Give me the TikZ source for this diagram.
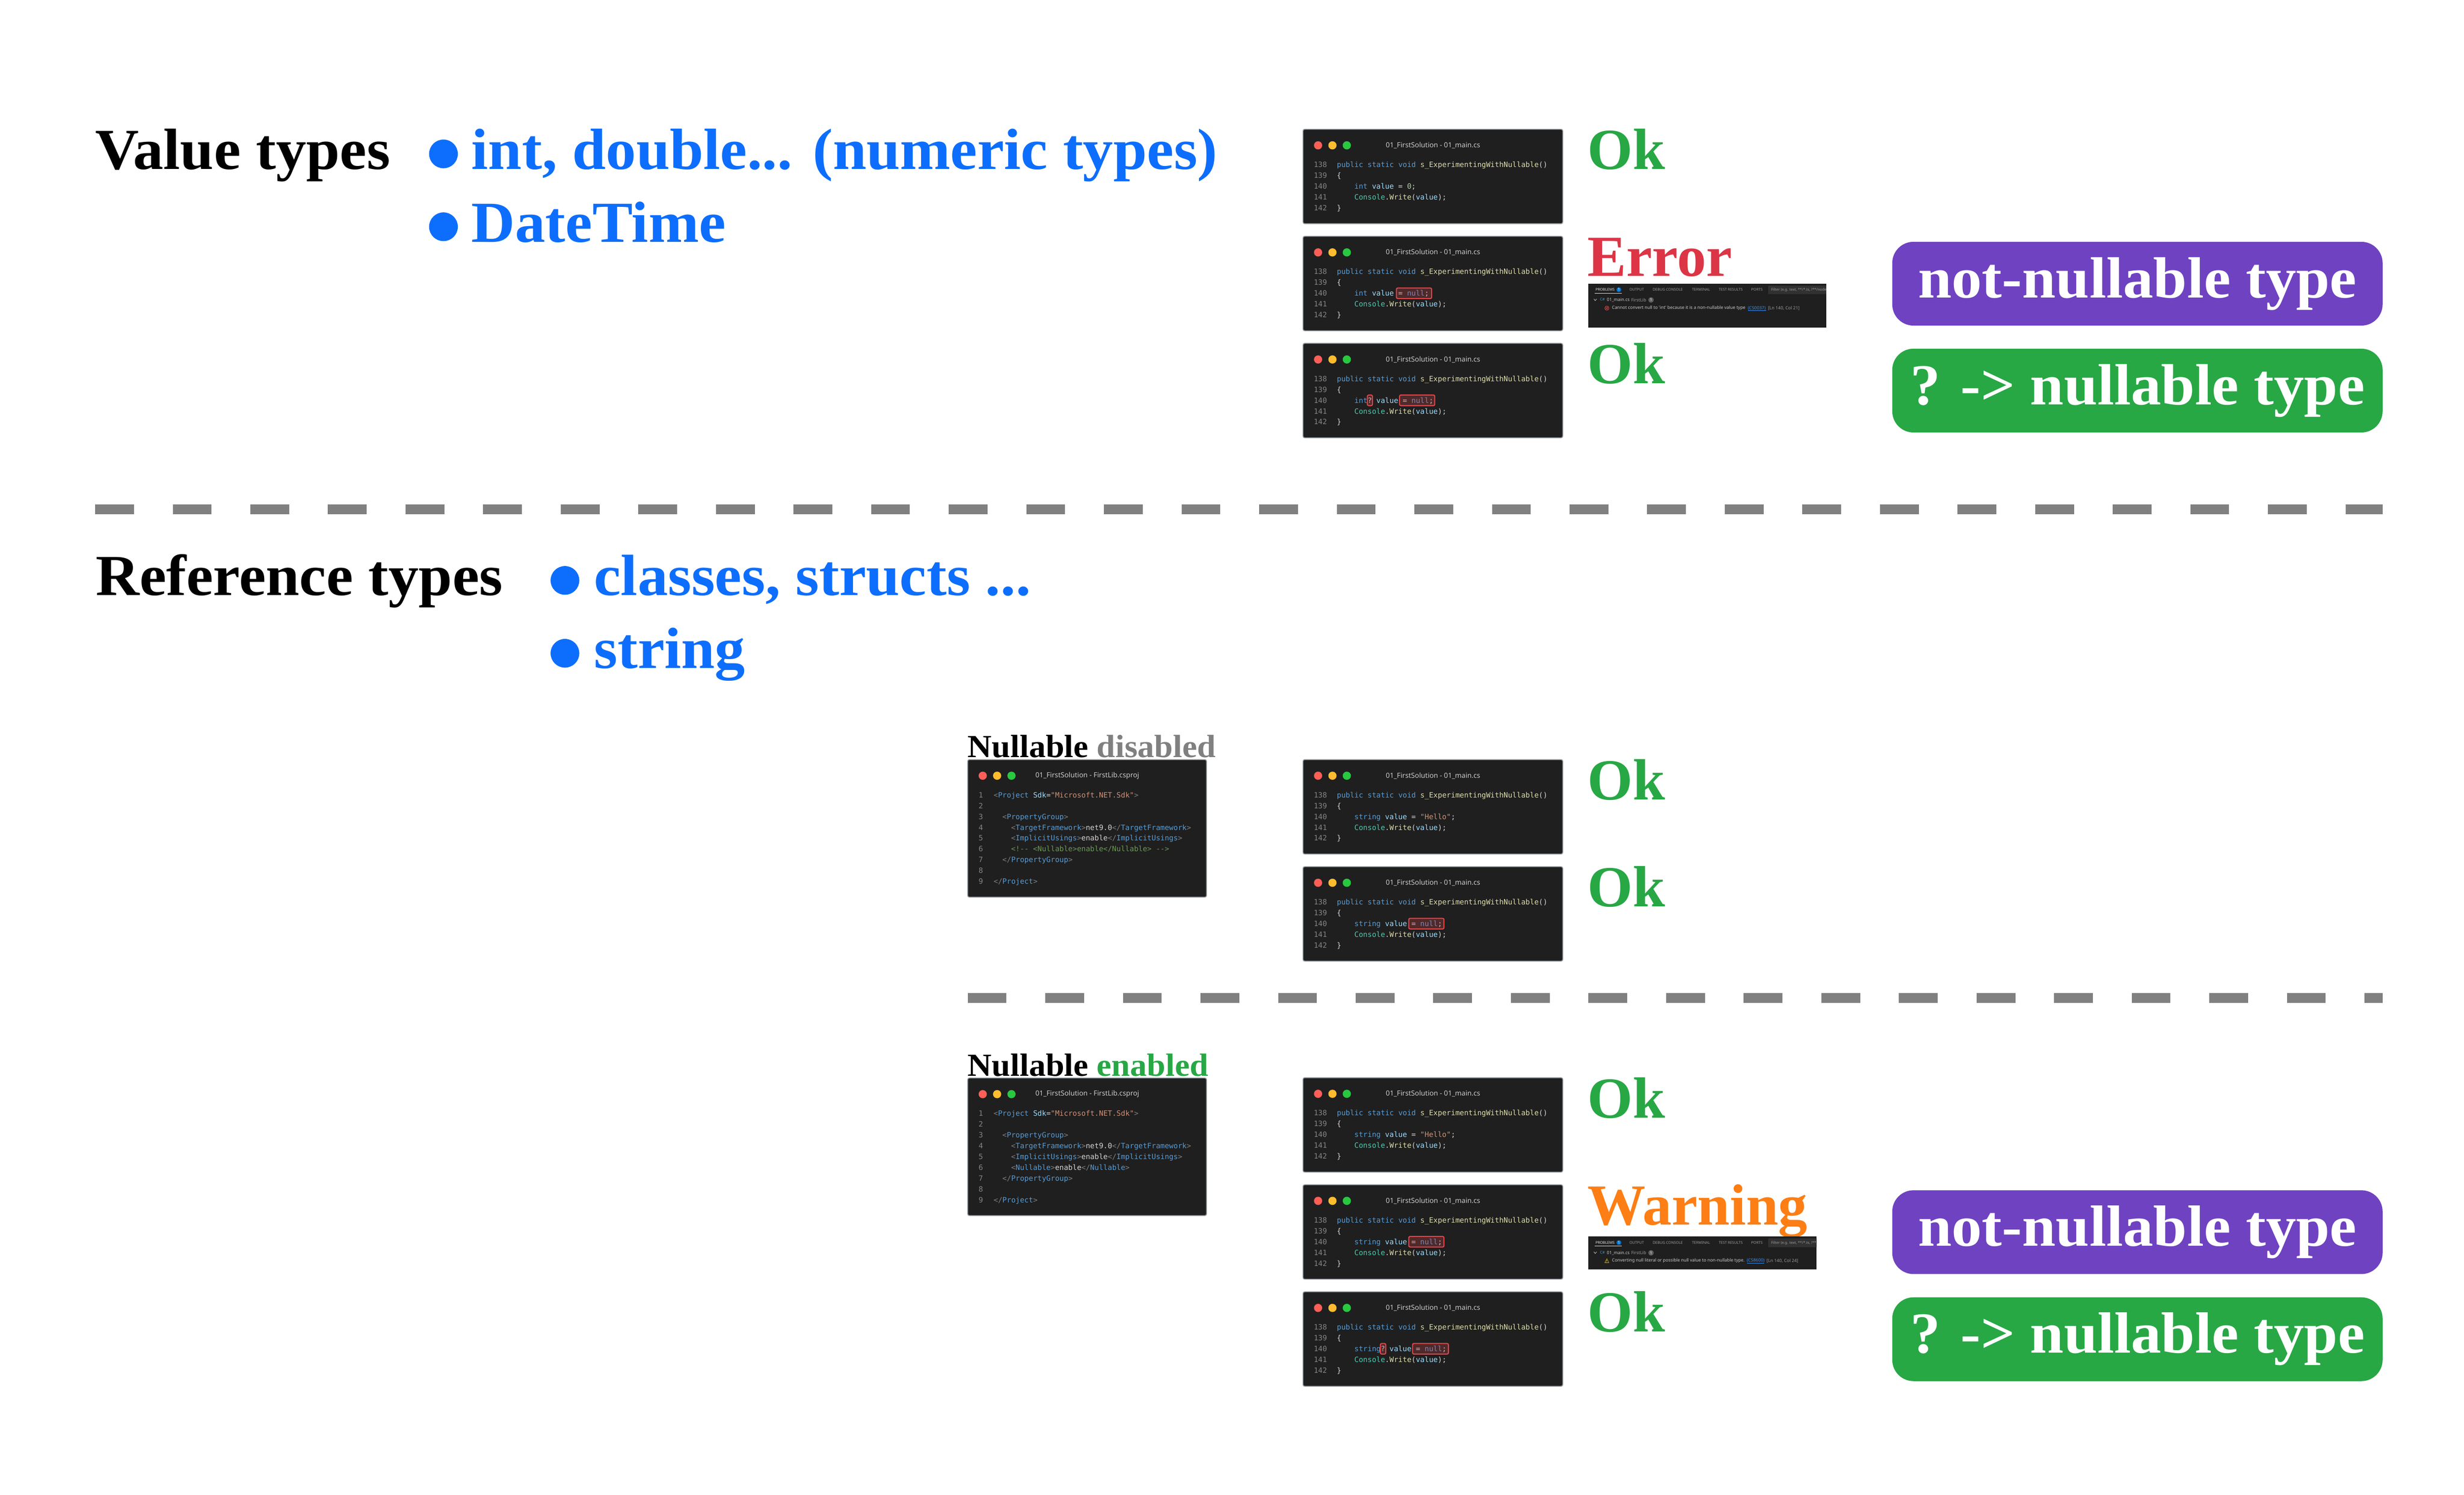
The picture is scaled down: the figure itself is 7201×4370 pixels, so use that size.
\documentclass[tikz,border=0pt]{standalone}
\usepackage{fontspec}
\setmainfont{Liberation Serif}[FakeStretch=1.04]
\newfontfamily\statusfont{Liberation Serif}
\newfontfamily\uifont{Noto Sans}
\setmonofont{DejaVu Sans Mono}[WordSpace={1,0,0}]
% colours
\definecolor{okgreen}{HTML}{28A745}
\definecolor{errred}{HTML}{DC3545}
\definecolor{warnorange}{HTML}{FD7E14}
\definecolor{itemblue}{HTML}{0D6EFD}
\definecolor{pillpurple}{HTML}{6F42C1}
\definecolor{gray50}{HTML}{808080}
\definecolor{ckw}{HTML}{569CD6}
\definecolor{cfn}{HTML}{DCDCAA}
\definecolor{cva}{HTML}{9CDCFE}
\definecolor{cty}{HTML}{4EC9B0}
\definecolor{cpl}{HTML}{D4D4D4}
\definecolor{cnm}{HTML}{B5CEA8}
\definecolor{cst}{HTML}{CE9178}
\definecolor{ccm}{HTML}{6A9955}
\definecolor{cbr}{HTML}{808080}
\definecolor{lngray}{HTML}{858585}
\definecolor{titlegray}{HTML}{CCCCCC}
\definecolor{winbg}{HTML}{1F1F1F}
\definecolor{winborder}{HTML}{8A9199}
\definecolor{tlred}{HTML}{FF5F57}
\definecolor{tlyellow}{HTML}{FEBC2E}
\definecolor{tlgreen}{HTML}{28C840}
\definecolor{hlred}{HTML}{E5484D}
\definecolor{panelbg}{HTML}{1F1F1F}
\definecolor{filterbg}{HTML}{313131}
\definecolor{tabwhite}{HTML}{E7E7E7}
\definecolor{tabgray}{HTML}{9D9D9D}
\definecolor{rowwhite}{HTML}{CCCCCC}
\definecolor{badgeblue}{HTML}{0078D4}
\definecolor{badgegray}{HTML}{616161}
\definecolor{linkblue}{HTML}{3794FF}
\definecolor{iconred}{HTML}{F14C4C}
\definecolor{iconyellow}{HTML}{CCA700}
\definecolor{csblue}{HTML}{519ABA}
% code colouring
\newcommand\CKw[1]{\textcolor{ckw}{#1}}
\newcommand\CFn[1]{\textcolor{cfn}{#1}}
\newcommand\CVa[1]{\textcolor{cva}{#1}}
\newcommand\CTy[1]{\textcolor{cty}{#1}}
\newcommand\CPl[1]{\textcolor{cpl}{#1}}
\newcommand\CNm[1]{\textcolor{cnm}{#1}}
\newcommand\CSt[1]{\textcolor{cst}{#1}}
\newcommand\CCm[1]{\textcolor{ccm}{#1}}
\newcommand\CBr[1]{\textcolor{cbr}{#1}}
\newcommand\CTg[1]{\textcolor{ckw}{#1}}
\newcommand\CAt[1]{\textcolor{cva}{#1}}
\tikzset{
  txt/.style={inner sep=0pt, outer sep=0pt},
  head/.style={txt, anchor=base west, font=\bfseries\fontsize{17pt}{20pt}\selectfont, text=black},
  item/.style={txt, anchor=base west, font=\bfseries\fontsize{17pt}{20pt}\selectfont, text=itemblue},
  status/.style={txt, anchor=base west, font=\statusfont\bfseries\fontsize{17pt}{20pt}\selectfont},
  nlabel/.style={txt, anchor=base west, font=\bfseries\fontsize{9.4pt}{11pt}\selectfont, text=black},
  pill/.style={rectangle, rounded corners=6.2pt, inner sep=0pt, minimum width=143.3pt, minimum height=24.5pt, draw=none,
    text height=12pt, text depth=3.9pt, font=\bfseries\fontsize{17pt}{20pt}\selectfont, text=white},
  sepline/.style={draw=gray50, line width=2.8pt, dash pattern=on 11.34pt off 11.34pt},
  winstyle/.style={fill=winbg, draw=winborder, line width=0.25pt, rounded corners=0.5pt},
  wintitle/.style={txt, anchor=west, font=\uifont\fontsize{2.04pt}{2.4pt}\selectfont, text=titlegray},
  lnum/.style={txt, anchor=base east, font=\ttfamily\fontsize{2.13pt}{2.5pt}\selectfont, text=lngray},
  codeln/.style={txt, anchor=base west, font=\ttfamily\fontsize{2.13pt}{2.5pt}\selectfont, text=cpl},
  hl/.style={fill=hlred, fill opacity=0.25, draw=hlred, draw opacity=1, line width=0.3pt, rounded corners=0.4pt},
  ptab/.style={txt, anchor=west, font=\uifont\fontsize{1.07pt}{1.3pt}\selectfont, text=tabgray},
  prow/.style={txt, anchor=west, font=\uifont\fontsize{1.28pt}{1.5pt}\selectfont, text=rowwhite},
  pbadge/.style={txt, font=\uifont\fontsize{1.1pt}{1.3pt}\selectfont, text=white},
}
% window frame: name, x, y, w, h, title, title x
\newcommand\winframe[7]{%
  \begin{scope}[shift={(#2,#3)}]
    \filldraw[winstyle] (0,0) rectangle (#4,#5);
    \fill[tlred] (44,47) circle[radius=12];
    \fill[tlyellow] (86,47) circle[radius=12];
    \fill[tlgreen] (128,47) circle[radius=12];
    \node[wintitle] (#1-title) at (#7,47) {#6};
  \end{scope}}
% C# window: name, x, y, line 140
\newcommand\cswin[4]{%
  \winframe{#1}{#2}{#3}{759}{276}{01\_FirstSolution - 01\_main.cs}{242}
  \begin{scope}[shift={(#2,#3)}]
    \node[lnum] (#1-n1) at (70,111) {138};
    \node[lnum] (#1-n2) at (70,142.6) {139};
    \node[lnum] (#1-n3) at (70,174.2) {140};
    \node[lnum] (#1-n4) at (70,205.8) {141};
    \node[lnum] (#1-n5) at (70,237.4) {142};
    \node[codeln] (#1-c1) at (99,111) {\CKw{public} \CKw{static} \CKw{void} \CFn{s\_ExperimentingWithNullable}\CPl{()}};
    \node[codeln] (#1-c2) at (99,142.6) {\CPl{\{}};
    \node[codeln] (#1-c3) at (150.2,174.2) {#4};
    \node[codeln] (#1-c4) at (150.2,205.8) {\CTy{Console}\CPl{.}\CFn{Write}\CPl{(}\CVa{value}\CPl{);}};
    \node[codeln] (#1-c5) at (99,237.4) {\CPl{\}}};
  \end{scope}}
\newcommand\hlbox[4]{\draw[hl] ({#1+#3},{#2+151}) rectangle ({#1+#4},{#2+182});}
% csproj window: name, x, y, line 6
\newcommand\projwin[4]{%
  \winframe{#1}{#2}{#3}{698}{402}{01\_FirstSolution - FirstLib.csproj}{198}
  \begin{scope}[shift={(#2,#3)}]
    \node[lnum] (#1-n1) at (45,111) {1};
    \node[lnum] (#1-n2) at (45,142.6) {2};
    \node[lnum] (#1-n3) at (45,174.2) {3};
    \node[lnum] (#1-n4) at (45,205.8) {4};
    \node[lnum] (#1-n5) at (45,237.4) {5};
    \node[lnum] (#1-n6) at (45,269) {6};
    \node[lnum] (#1-n7) at (45,300.6) {7};
    \node[lnum] (#1-n8) at (45,332.2) {8};
    \node[lnum] (#1-n9) at (45,363.8) {9};
    \node[codeln] (#1-c1) at (76,111) {\CBr{<}\CTg{Project} \CAt{Sdk}\CPl{=}\CSt{"Microsoft.NET.Sdk"}\CBr{>}};
    \node[codeln] (#1-c3) at (101.6,174.2) {\CBr{<}\CTg{PropertyGroup}\CBr{>}};
    \node[codeln] (#1-c4) at (127.2,205.8) {\CBr{<}\CTg{TargetFramework}\CBr{>}\CPl{net9.0}\CBr{</}\CTg{TargetFramework}\CBr{>}};
    \node[codeln] (#1-c5) at (127.2,237.4) {\CBr{<}\CTg{ImplicitUsings}\CBr{>}\CPl{enable}\CBr{</}\CTg{ImplicitUsings}\CBr{>}};
    \node[codeln] (#1-c6) at (127.2,269) {#4};
    \node[codeln] (#1-c7) at (101.6,300.6) {\CBr{</}\CTg{PropertyGroup}\CBr{>}};
    \node[codeln] (#1-c9) at (76,363.8) {\CBr{</}\CTg{Project}\CBr{>}};
  \end{scope}}
% problems panel base: name, x, y, w, h
\newcommand\panelbase[5]{%
  \begin{scope}[shift={(#2,#3)}]
    \fill[panelbg] (0,0) rectangle (#4,#5);
    \begin{scope}
      \clip (0,0) rectangle (#4,#5);
      \fill[filterbg] (526,6) rectangle ({#4+10},31);
      \node[ptab, text=tabgray] (#1-filter) at (534,19) {Filter (e.g. text, **/*.ts, !**/node\_modules/**)};
    \end{scope}
    \node[ptab, text=tabwhite] (#1-tp) at (21,18) {PROBLEMS};
    \fill[badgeblue] (89,18) circle[radius=7];
    \node[pbadge] (#1-tpb) at (89,18) {1};
    \draw[tabwhite, line width=0.15pt] (18,28) -- (98,28);
    \node[ptab] (#1-to) at (120,18) {OUTPUT};
    \node[ptab] (#1-td) at (188,18) {DEBUG CONSOLE};
    \node[ptab] (#1-tt) at (303,18) {TERMINAL};
    \node[ptab] (#1-tr) at (381,18) {TEST RESULTS};
    \node[ptab] (#1-tpo) at (476,18) {PORTS};
    \draw[rowwhite, line width=0.12pt] (16,45) -- (20,50) -- (24,45);
    \node[txt, font=\uifont\bfseries\fontsize{1.1pt}{1.3pt}\selectfont, text=csblue] (#1-ic) at (41,47) {C\#};
    \node[prow] (#1-fn) at (54,48) {01\_main.cs};
    \node[prow, text=tabgray] (#1-fl) at (125,48) {FirstLib};
    \fill[badgegray] (183,48) circle[radius=8];
    \node[pbadge] (#1-cb) at (183,48) {1};
  \end{scope}}

\begin{document}
\begin{tikzpicture}[x=0.1pt, y=-0.1pt]
\fill[white] (0,0) rectangle (7201,4370);
\useasboundingbox (0,0) rectangle (7201,4370);

% ---------- headings ----------
\node[head] (vt) at (278,495) {Value types};
\fill[itemblue] (1296,450) circle[radius=42];
\node[item] (vt1) at (1378,495) {int, double... (numeric types)};
\fill[itemblue] (1296,663) circle[radius=42];
\node[item] (vt2) at (1378,708) {DateTime};

\node[head] (rt) at (280,1741) {Reference types};
\fill[itemblue] (1651,1697) circle[radius=42];
\node[item] (rt1) at (1736,1741) {classes, structs ...};
\fill[itemblue] (1651,1910) circle[radius=42];
\node[item] (rt2) at (1736,1954) {string};

% ---------- separators ----------
\coordinate (sa1) at (278,1489);
\coordinate (sa2) at (6963,1489);
\draw[sepline] (sa1) -- (sa2);
\coordinate (sb1) at (2828,2918);
\coordinate (sb2) at (6963,2918);
\draw[sepline] (sb1) -- (sb2);

% ---------- value type windows ----------
\cswin{wA}{3808}{378}{\CKw{int} \CVa{value} \CPl{=} \CNm{0}\CPl{;}}
\cswin{wB}{3808}{691}{\CKw{int} \CVa{value} \CPl{=} \CKw{null}\CPl{;}}
\hlbox{3808}{691}{273}{376}
\cswin{wC}{3808}{1004}{\CKw{int}\CPl{?} \CVa{value} \CPl{=} \CKw{null}\CPl{;}}
\hlbox{3808}{1004}{188}{203}
\hlbox{3808}{1004}{282}{385}

\node[status, text=okgreen] (sA) at (4640,495) {Ok};
\node[status, text=errred] (sB) at (4640,807) {Error};
\node[status, text=okgreen] (sC) at (4640,1121) {Ok};

% error panel
\panelbase{pe}{4642}{829}{695}{129}
\begin{scope}[shift={(4642,829)}]
  \draw[iconred, line width=0.12pt] (54,72) circle[radius=6];
  \draw[iconred, line width=0.12pt] (51,69) -- (57,75) (57,69) -- (51,75);
  \node[prow] (pe-msg) at (69,72) {Cannot convert null to \textquotesingle{}int\textquotesingle{} because it is a non-nullable value type};
  \node[prow, text=linkblue] (pe-code) at (466,72) {(CS0037)};
  \draw[linkblue, line width=0.08pt] (466,79) -- (519,79);
  \node[prow, text=tabgray] (pe-pos) at (525,72) {[Ln 140, Col 21]};
\end{scope}

% pills (top)
\node[pill, fill=pillpurple] (pA) at (6246.5,829.5) {not-nullable type};
\node[pill, fill=okgreen] (pB) at (6246.5,1142) {? -> nullable type};

% ---------- reference types: nullable disabled ----------
\node[nlabel] (nd) at (2828,2215) {Nullable \textcolor{gray50}{disabled}};
\projwin{pjA}{2828}{2221}{\CCm{<!-- <Nullable>enable</Nullable> -->}}
\cswin{wD}{3808}{2221}{\CKw{string} \CVa{value} \CPl{=} \CSt{"Hello"}\CPl{;}}
\cswin{wE}{3808}{2534}{\CKw{string} \CVa{value} \CPl{=} \CKw{null}\CPl{;}}
\hlbox{3808}{2534}{309}{412}
\node[status, text=okgreen] (sD) at (4640,2338) {Ok};
\node[status, text=okgreen] (sE) at (4640,2651) {Ok};

% ---------- reference types: nullable enabled ----------
\node[nlabel] (ne) at (2828,3146) {Nullable \textcolor{okgreen}{enabled}};
\projwin{pjB}{2828}{3152}{\CBr{<}\CTg{Nullable}\CBr{>}\CPl{enable}\CBr{</}\CTg{Nullable}\CBr{>}}
\cswin{wF}{3808}{3151}{\CKw{string} \CVa{value} \CPl{=} \CSt{"Hello"}\CPl{;}}
\cswin{wG}{3808}{3464}{\CKw{string} \CVa{value} \CPl{=} \CKw{null}\CPl{;}}
\hlbox{3808}{3464}{309}{412}
\cswin{wH}{3808}{3777}{\CKw{string}\CPl{?} \CVa{value} \CPl{=} \CKw{null}\CPl{;}}
\hlbox{3808}{3777}{226}{242}
\hlbox{3808}{3777}{320}{425}

\node[status, text=okgreen] (sF) at (4640,3268) {Ok};
\node[status, text=warnorange] (sG) at (4640,3581) {Warning};
\node[status, text=okgreen] (sH) at (4640,3894) {Ok};

% warning panel
\panelbase{pw}{4642}{3615}{667}{97}
\begin{scope}[shift={(4642,3615)}]
  \draw[iconyellow, line width=0.12pt, line join=round] (48,77) -- (54,65) -- (60,77) -- cycle;
  \draw[iconyellow, line width=0.1pt] (54,68.5) -- (54,73) (54,74.5) -- (54,75.5);
  \node[prow] (pw-msg) at (69,71) {Converting null literal or possible null value to non-nullable type.};
  \node[prow, text=linkblue] (pw-code) at (463,71) {(CS8600)};
  \draw[linkblue, line width=0.08pt] (463,78) -- (514,78);
  \node[prow, text=tabgray] (pw-pos) at (521,71) {[Ln 140, Col 24]};
\end{scope}

% pills (bottom)
\node[pill, fill=pillpurple] (pC) at (6246.5,3602.5) {not-nullable type};
\node[pill, fill=okgreen] (pD) at (6246.5,3915.5) {? -> nullable type};
\end{tikzpicture}
\end{document}
